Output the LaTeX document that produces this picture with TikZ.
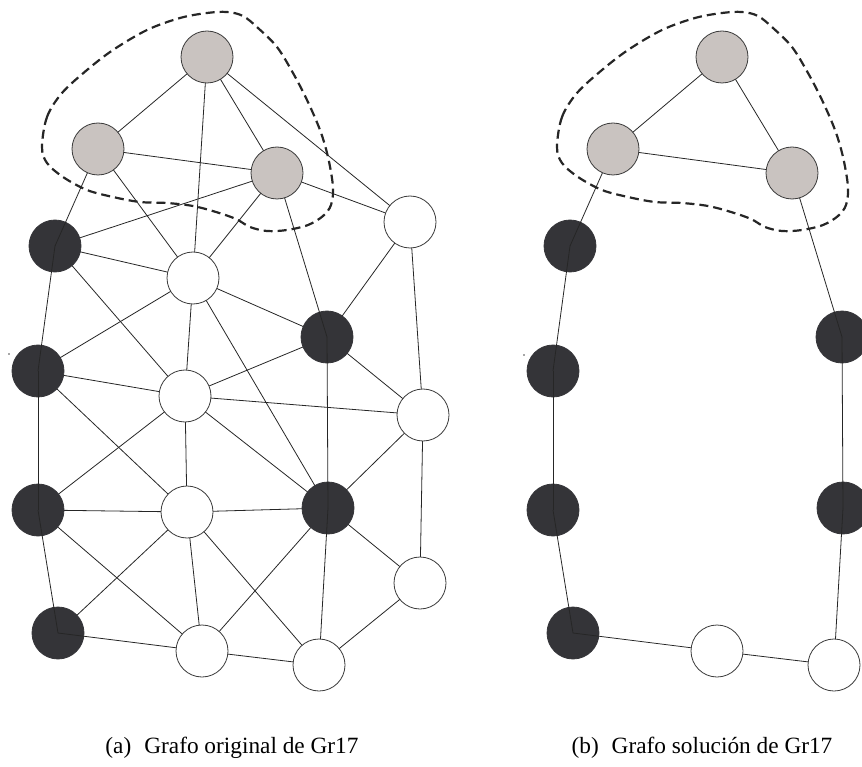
\documentclass[tikz,border=0pt]{standalone}
\usepackage{fontspec}
\setmainfont{Liberation Serif}
\begin{document}
\definecolor{vline}{HTML}{3A3A3A}
\definecolor{vgreyfill}{HTML}{C9C3C0}
\definecolor{vdarkfill}{HTML}{343438}
\pgfdeclarelayer{edges}
\pgfdeclarelayer{darks}
\pgfdeclarelayer{cyc}
\pgfsetlayers{edges,darks,cyc,main}
\begin{tikzpicture}[x=1pt,y=-1pt,
  vbase/.style={circle, minimum size=52pt, inner sep=0pt, line width=0.8pt},
  vgrey/.style={vbase, draw=vline, fill=vgreyfill},
  vwhite/.style={vbase, draw=vline, fill=white},
  vdark/.style={vbase, draw=vdarkfill, fill=vdarkfill},
  edge/.style={line width=0.8pt, draw=black!85},
  hull/.style={line width=2.2pt, draw=black!85, dash pattern=on 9pt off 5pt},
  caption/.style={anchor=base, font=\fontsize{23.3}{28}\selectfont}]
\useasboundingbox (0,0) rectangle (862,767);

% ---------- (a) original graph ----------
\node[vgrey]  (aT) at (207,57)  {};
\node[vgrey]  (aL) at (98,149)  {};
\node[vgrey]  (aR) at (277,173) {};
\node[vwhite] (aW) at (410,222) {};
\node[vwhite] (aC) at (193,278) {};
\node[vwhite] (aF) at (185,396) {};
\node[vwhite] (aG) at (423,415) {};
\node[vwhite] (aI) at (187,512) {};
\node[vwhite] (aK) at (420,583) {};
\node[vwhite] (aN) at (202,651) {};
\node[vwhite] (aO) at (319,665) {};
\begin{pgfonlayer}{darks}
\node[vdark] (aA) at (55,246)  {};
\node[vdark] (aD) at (327,337) {};
\node[vdark] (aE) at (38,371)  {};
\node[vdark] (aH) at (38,510)  {};
\node[vdark] (aJ) at (328,508) {};
\node[vdark] (aM) at (58,633)  {};
\end{pgfonlayer}

% ---------- (b) solution graph ----------
\node[vgrey]  (bT) at (722,57)  {};
\node[vgrey]  (bL) at (613,149) {};
\node[vgrey]  (bR) at (792,173) {};
\node[vwhite] (bN) at (717,651) {};
\node[vwhite] (bO) at (834,665) {};
\begin{pgfonlayer}{darks}
\node[vdark] (bA) at (570,246) {};
\node[vdark] (bD) at (842,337) {};
\node[vdark] (bE) at (553,371) {};
\node[vdark] (bH) at (553,510) {};
\node[vdark] (bJ) at (843,508) {};
\node[vdark] (bM) at (573,633) {};
\end{pgfonlayer}

% ordinary edges, below every vertex
\begin{pgfonlayer}{edges}
\foreach \u/\v in {T/L,T/C,T/R,T/W,L/R,L/C,R/A,R/C,R/W,A/C,A/F,W/D,W/G,
                   C/E,C/F,C/D,C/J,D/F,D/G,E/F,E/I,F/G,F/H,F/I,F/J,G/J,G/K,
                   H/I,H/N,I/J,I/M,I/N,I/O,J/N,J/K,K/O,N/O}
  \draw[edge] (a\u.center) -- (a\v.center);
\foreach \u/\v in {T/L,T/R,L/R,N/O}
  \draw[edge] (b\u.center) -- (b\v.center);
\end{pgfonlayer}

% cycle edges, drawn over the dark vertices
\begin{pgfonlayer}{cyc}
\foreach \u/\v in {L/A,A/E,E/H,H/M,M/N,O/J,J/D,D/R}{
  \draw[edge] (a\u.center) -- (a\v.center);
  \draw[edge] (b\u.center) -- (b\v.center);
}
\end{pgfonlayer}

% dashed hulls around the grey triangle
\foreach \dx in {0,515}
  \draw[hull, xshift=\dx pt] plot[smooth cycle, tension=0.55] coordinates {
    (42,147) (47,117) (62,93) (87,70) (113,50) (147,30) (180,18) (207,13)
    (227,12) (243,16) (258,28) (277,47) (293,73) (307,100) (320,130)
    (328,157) (333,187) (331,205) (323,216) (308,225) (287,230) (267,231)
    (250,227) (236,219) (216,212) (193,206) (167,203) (140,202) (113,197)
    (87,190) (63,177) (47,163)};

% small specks
\fill[black!70] (9,354) circle (0.8);
\fill[black!70] (524,355) circle (0.8);

% captions
\node[caption] (capa) at (232,753) {(a)\hspace{13pt}Grafo original de Gr17};
\node[caption] (capb) at (702,753) {(b)\hspace{13pt}Grafo solución de Gr17};
\end{tikzpicture}
\end{document}
